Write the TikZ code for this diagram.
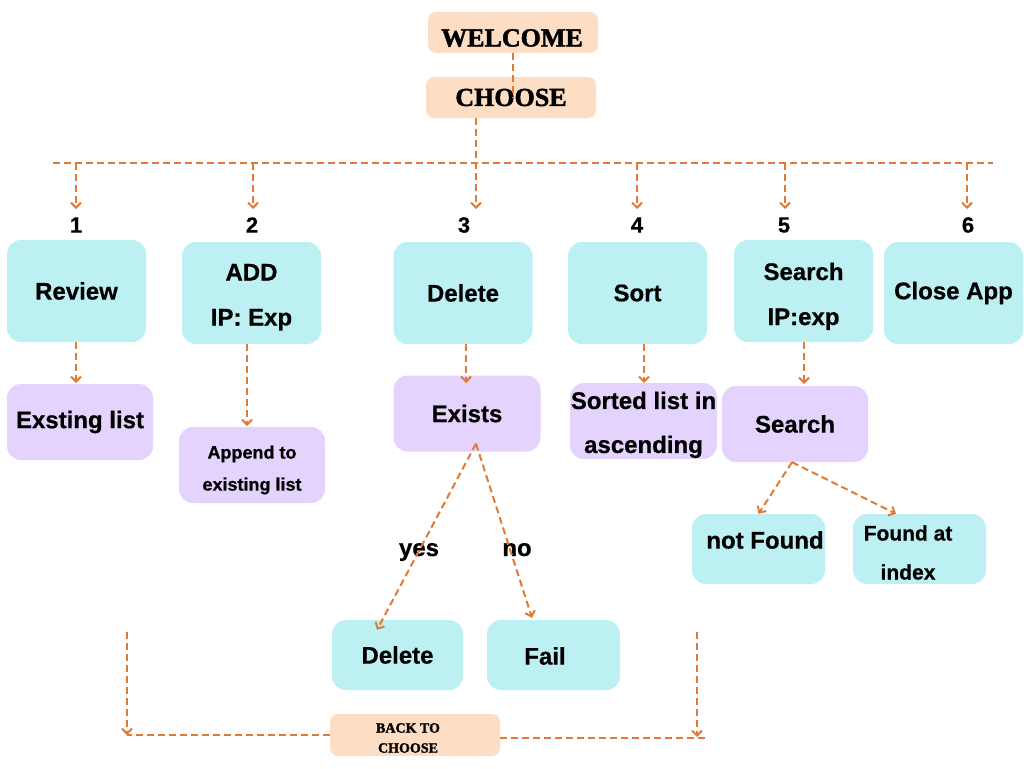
\documentclass[tikz,border=0pt]{standalone}
\usepackage{fontspec}
\setmainfont{Liberation Sans}[BoldFeatures={FakeBold=0.6}]
\newfontfamily\disp{Liberation Serif}[BoldFeatures={FakeBold=1.8}]
\usetikzlibrary{arrows.meta}
\definecolor{orng}{HTML}{E07B35}
\definecolor{cyanbox}{HTML}{BCF0F2}
\definecolor{lilac}{HTML}{E3D3FD}
\definecolor{peach}{HTML}{FDDEC4}
\begin{document}
\begin{tikzpicture}[x=1pt,y=-1pt,
 box/.style={rounded corners=14pt, inner sep=0pt, align=center, font=\bfseries\fontsize{24}{45}\selectfont},
 cbox/.style={box, fill=cyanbox, minimum width=139pt, minimum height=102pt},
 pbox/.style={box, fill=lilac, minimum width=146pt, minimum height=76pt},
 bbox/.style={box, fill=cyanbox, minimum width=133pt, minimum height=70pt},
 hbox/.style={rounded corners=8pt, inner sep=0pt, fill=peach, align=center, font=\disp\bfseries\fontsize{26}{30}\selectfont, minimum width=170pt, minimum height=41pt},
 txt/.style={inner sep=0pt, align=center, font=\bfseries\fontsize{24}{30}\selectfont},
 num/.style={inner sep=0pt, font=\bfseries\fontsize{22}{26}\selectfont},
 link/.style={draw=orng, line width=2pt, dash pattern=on 7pt off 4pt},
 arr/.style={link, -{Straight Barb[length=5pt,width=10pt]}}
]
\useasboundingbox (0,0) rectangle (1024,768);

% header
\node[hbox] (welcome) at (513,32.5) {};
\node[txt, font=\disp\bfseries\fontsize{26}{30}\selectfont] (welcomet) at (512,38) {WELCOME};
\node[hbox] (choose) at (511,97.5) {CHOOSE};

% numbers
\node[num] (n1) at (76,225) {1};
\node[num] (n2) at (252,225) {2};
\node[num] (n3) at (464,225) {3};
\node[num] (n4) at (637,225) {4};
\node[num] (n5) at (784,225) {5};
\node[num] (n6) at (968,225) {6};

% main options
\node[cbox] (review) at (76.5,291) {Review};
\node[cbox] (add) at (251.5,293) {\rule{0pt}{25pt}ADD\\IP: Exp};
\node[cbox] (delete) at (463,293) {Delete};
\node[cbox] (sort) at (637.5,293) {Sort};
\node[cbox] (search) at (803.5,291) {\rule{0pt}{28pt}Search\\IP:exp};
\node[cbox] (close) at (953.5,293) {Close App};

% second row
\node[pbox] (exlist) at (80,422) {Exsting list};
\node[pbox, font=\bfseries\fontsize{18}{32}\selectfont] (append) at (252,465) {\rule{0pt}{23pt}Append to\\existing list};
\node[pbox, minimum width=147pt] (exists) at (467,413.5) {Exists};
\node[pbox, minimum width=147pt, font=\bfseries\fontsize{24}{44}\selectfont] (sorted) at (643.5,421) {\rule{0pt}{25pt}Sorted list in\\ascending};
\node[pbox] (search2) at (795,424) {Search};

% third row
\node[bbox, minimum width=131pt] (del2) at (397.5,655) {Delete};
\node[bbox] (fail) at (553.5,655) {};
\node[txt] (failt) at (545,656) {Fail};
\node[bbox] (nf) at (758.5,549) {};
\node[txt] (nft) at (765,540) {not Found};
\node[bbox] (fd) at (919.5,549) {};
\node[txt, font=\bfseries\fontsize{21}{39}\selectfont] (fdt) at (908,552.5) {Found at\\index};

\node[txt, anchor=base] (yes) at (419,556) {yes};
\node[txt, anchor=base] (no) at (517,556) {no};

% back box
\node[hbox, minimum height=42pt] (back) at (415,735) {};
\node[txt, font=\disp\bfseries\fontsize{14}{20}\selectfont] (backt) at (408,738) {BACK TO\\CHOOSE};

% coordinates
\coordinate (b0) at (53,163);
\coordinate (b7) at (993,163);
\coordinate (d1) at (76,163);  \coordinate (t1) at (76,209);
\coordinate (d2) at (253,163); \coordinate (t2) at (253,209);
\coordinate (t3) at (476,209);
\coordinate (d4) at (637,163); \coordinate (t4) at (637,209);
\coordinate (d5) at (785,163); \coordinate (t5) at (785,209);
\coordinate (d6) at (967,163); \coordinate (t6) at (967,209);

\coordinate (e1) at (76,383);
\coordinate (e2) at (247,426);
\coordinate (e3) at (466,383);
\coordinate (e4) at (644,383);
\coordinate (e5) at (804,384);

\coordinate (ltop) at (127,632);
\coordinate (lbot) at (127,735);
\coordinate (rtop) at (697,632);
\coordinate (rbot) at (697,737);
\coordinate (rend) at (705,738);

% connectors
\draw[link] (welcome.south) -- (welcome.south |- choose.center);
\draw[link] (b0) -- (b7);
\draw[arr] (choose.south -| t3) -- (t3);
\draw[arr] (d1) -- (t1);
\draw[arr] (d2) -- (t2);
\draw[arr] (d4) -- (t4);
\draw[arr] (d5) -- (t5);
\draw[arr] (d6) -- (t6);

\draw[arr] (review.south -| e1) -- (e1);
\draw[arr] (add.south -| e2) -- (e2);
\draw[arr] (delete.south -| e3) -- (e3);
\draw[arr] (sort.south -| e4) -- (e4);
\draw[arr] (search.south -| e5) -- (e5);

\draw[arr] ([xshift=9pt,yshift=8pt]exists.south) -- ([xshift=-20.5pt,yshift=-10pt]del2.north);
\draw[arr] ([xshift=9pt,yshift=8pt]exists.south) -- ([xshift=-21.5pt,yshift=2pt]fail.north);
\draw[arr] ([xshift=-3pt]search2.south) -- (nf.north);
\draw[arr] ([xshift=-3pt]search2.south) -- ([xshift=-23.5pt]fd.north);

\draw[arr] (ltop) -- (lbot);
\draw[link] (back.west) -- (lbot);
\draw[arr] (rtop) -- (rbot);
\draw[link] ([yshift=-3pt]back.east) -- (rend);
\end{tikzpicture}
\end{document}
